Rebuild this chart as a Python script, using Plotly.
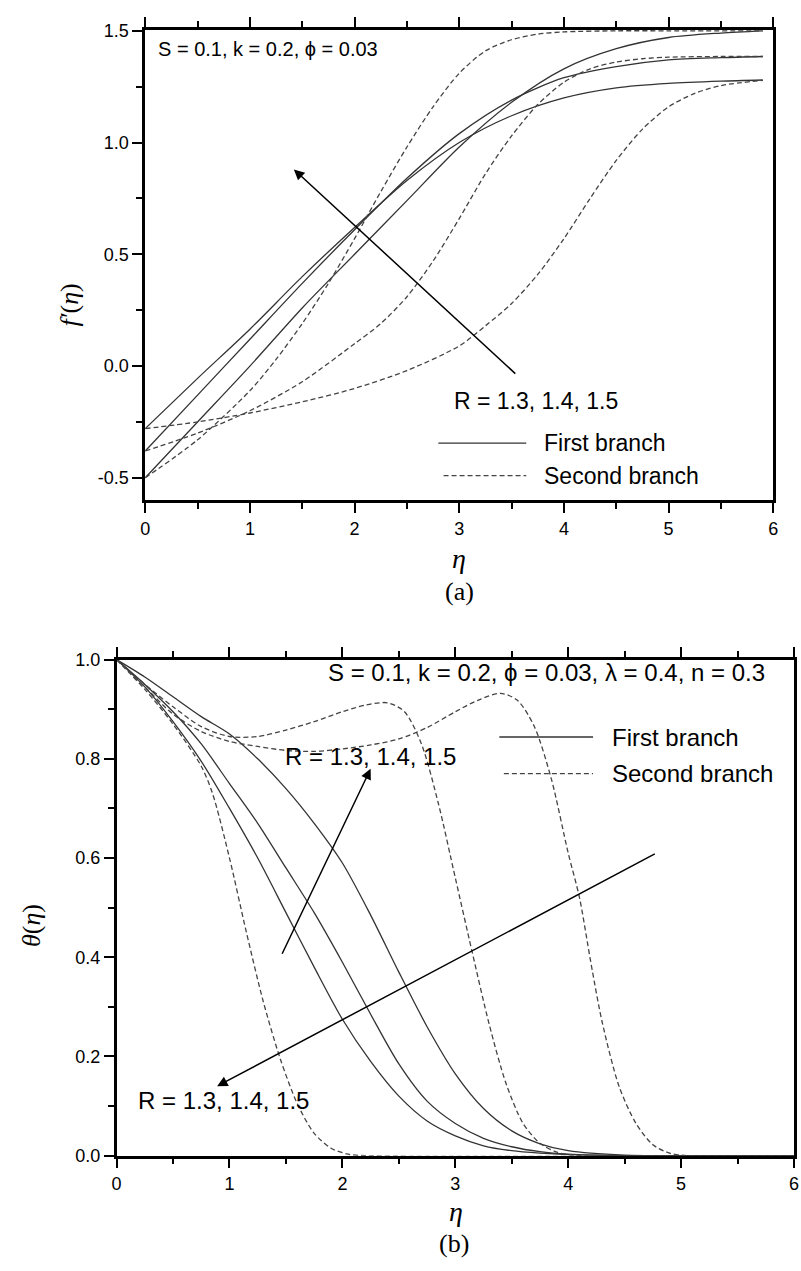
import plotly.graph_objects as go

# ---------------- (a) f'(eta) ----------------
eta_first = [0, 0.5, 1, 1.5, 2, 2.5, 3, 3.5, 4, 4.5, 5, 5.5, 5.9]
fp_first_r13 = [-0.28, -0.055, 0.165, 0.40, 0.62, 0.83, 1.0, 1.12, 1.20, 1.245, 1.265, 1.275, 1.28]
fp_first_r14 = [-0.38, -0.13, 0.12, 0.37, 0.61, 0.84, 1.04, 1.19, 1.29, 1.34, 1.37, 1.38, 1.385]
fp_first_r15 = [-0.5, -0.25, 0.0, 0.26, 0.50, 0.74, 0.98, 1.18, 1.33, 1.42, 1.47, 1.49, 1.50]

eta_sec_r13 = [0, 0.5, 1, 1.5, 2, 2.5, 3, 3.25, 3.5, 3.75, 4, 4.25, 4.5, 4.75, 5, 5.25, 5.5, 5.9]
fp_sec_r13 = [-0.28, -0.25, -0.21, -0.16, -0.1, -0.02, 0.09, 0.18, 0.28, 0.41, 0.57, 0.75, 0.92, 1.06, 1.16, 1.22, 1.255, 1.278]
eta_sec_r14 = [0, 0.5, 1, 1.5, 2, 2.25, 2.5, 2.75, 3, 3.25, 3.5, 3.75, 4, 4.25, 4.5, 4.75, 5, 5.5, 5.9]
fp_sec_r14 = [-0.38, -0.30, -0.20, -0.07, 0.10, 0.19, 0.31, 0.47, 0.66, 0.86, 1.03, 1.17, 1.27, 1.33, 1.36, 1.375, 1.382, 1.385, 1.385]
eta_sec_r15 = [0, 0.5, 1, 1.25, 1.5, 1.75, 2, 2.25, 2.5, 2.75, 3, 3.25, 3.5, 3.75, 4, 4.5, 5, 5.9]
fp_sec_r15 = [-0.5, -0.33, -0.11, 0.03, 0.19, 0.37, 0.57, 0.78, 0.98, 1.16, 1.31, 1.41, 1.46, 1.485, 1.495, 1.5, 1.5, 1.5]

# ---------------- (b) theta(eta) ----------------
eta_t = [0, 0.25, 0.5, 0.75, 1, 1.25, 1.5, 1.75, 2, 2.25, 2.5, 2.75, 3, 3.25, 3.5, 3.75, 4, 4.5, 5, 6]
th_first_a = [1.0, 0.945, 0.875, 0.795, 0.70, 0.60, 0.49, 0.38, 0.275, 0.19, 0.12, 0.07, 0.04, 0.02, 0.01, 0.005, 0.002, 0, 0, 0]
th_first_b = [1.0, 0.95, 0.895, 0.83, 0.75, 0.67, 0.58, 0.49, 0.39, 0.285, 0.185, 0.11, 0.065, 0.035, 0.018, 0.008, 0.003, 0, 0, 0]
th_first_c = [1.0, 0.965, 0.925, 0.885, 0.85, 0.80, 0.74, 0.67, 0.59, 0.485, 0.37, 0.26, 0.165, 0.095, 0.05, 0.024, 0.01, 0.001, 0, 0]

eta_s1 = [0, 0.25, 0.5, 0.75, 0.85, 1.0, 1.15, 1.3, 1.45, 1.6, 1.75, 1.9, 2.05, 2.2, 6]
th_sec_a = [1.0, 0.94, 0.87, 0.785, 0.73, 0.60, 0.45, 0.31, 0.195, 0.105, 0.045, 0.015, 0.003, 0, 0]
eta_s2 = [0, 0.25, 0.5, 0.75, 1.0, 1.25, 1.5, 1.75, 2.0, 2.2, 2.4, 2.55, 2.7, 2.85, 3.0, 3.15, 3.3, 3.45, 3.6, 3.75, 3.9, 4.1, 6]
th_sec_b = [1.0, 0.95, 0.905, 0.865, 0.845, 0.845, 0.858, 0.875, 0.895, 0.908, 0.913, 0.895, 0.83, 0.71, 0.56, 0.41, 0.265, 0.145, 0.065, 0.025, 0.007, 0, 0]
eta_s3 = [0, 0.25, 0.5, 0.75, 1.0, 1.25, 1.5, 1.75, 2.0, 2.25, 2.5, 2.75, 3.0, 3.2, 3.4, 3.55, 3.7, 3.85, 4.0, 4.1, 4.2, 4.3, 4.45, 4.6, 4.75, 4.9, 5.05, 6]
th_sec_c = [1.0, 0.945, 0.89, 0.855, 0.835, 0.825, 0.817, 0.815, 0.82, 0.828, 0.84, 0.863, 0.895, 0.918, 0.932, 0.918, 0.865, 0.76, 0.61, 0.52, 0.39, 0.27, 0.14, 0.065, 0.022, 0.005, 0, 0]

# tick labels
fp_ticks = [-0.5, 0.0, 0.5, 1.0, 1.5]
fp_ticklabels = ["-0.5", "0.0", "0.5", "1.0", "1.5"]
th_ticks = [0.0, 0.2, 0.4, 0.6, 0.8, 1.0]
th_ticklabels = ["0.0", "0.2", "0.4", "0.6", "0.8", "1.0"]
eta_ticks = [0, 1, 2, 3, 4, 5, 6]
eta_ticklabels = ["0", "1", "2", "3", "4", "5", "6"]

W, H = 801, 1271
SOLID = dict(color="#333333", width=1.3)
DASH = dict(color="#444444", width=1.3, dash="5px,3px")

fig = go.Figure()

def add(x, y, line, xa, ya):
    fig.add_trace(go.Scatter(x=x, y=y, mode="lines", line=dict(shape="spline", smoothing=0.8, **line),
                             xaxis=xa, yaxis=ya, showlegend=False, hoverinfo="skip"))

for y in (fp_first_r13, fp_first_r14, fp_first_r15):
    add(eta_first, y, SOLID, "x", "y")
for x, y in ((eta_sec_r13, fp_sec_r13), (eta_sec_r14, fp_sec_r14), (eta_sec_r15, fp_sec_r15)):
    add(x, y, DASH, "x", "y")
for y in (th_first_a, th_first_b, th_first_c):
    add(eta_t, y, SOLID, "x2", "y2")
for x, y in ((eta_s1, th_sec_a), (eta_s2, th_sec_b), (eta_s3, th_sec_c)):
    add(x, y, DASH, "x2", "y2")

tickfont = dict(family="Liberation Sans, Arial, sans-serif", size=18, color="black")
common = dict(showgrid=False, zeroline=False, showline=True, linecolor="black", linewidth=2.5,
              ticks="outside", ticklen=10, tickwidth=2, tickcolor="black", tickfont=tickfont, tickmode="array")

def minor(d):
    return dict(tick0=0, dtick=d, ticklen=6, tickwidth=2, tickcolor="black", ticks="outside")

fig.update_layout(
    width=W, height=H, autosize=False,
    margin=dict(l=0, r=0, t=0, b=0),
    paper_bgcolor="white", plot_bgcolor="white",
    xaxis=dict(domain=[142 / W, 778 / W], range=[0, 6], anchor="y", tickvals=eta_ticks, ticktext=eta_ticklabels,
               mirror="ticks", minor=minor(0.5), **common),
    yaxis=dict(domain=[1 - 498 / H, 1 - 20 / H], range=[-0.6, 1.505], anchor="x", tickvals=fp_ticks,
               ticktext=fp_ticklabels, mirror=True, minor=minor(0.25), **common),
    xaxis2=dict(domain=[113 / W, 799 / W], range=[0, 6], anchor="y2", tickvals=eta_ticks, ticktext=eta_ticklabels,
                mirror="ticks", minor=minor(0.5), **common),
    yaxis2=dict(domain=[1 - 1164 / H, 1 - 660 / H], range=[0, 1.0], anchor="x2", tickvals=th_ticks,
                ticktext=th_ticklabels, mirror=True, minor=minor(0.1), **common),
)

sans = "Liberation Sans, Arial, sans-serif"
serif = "Liberation Serif, Times New Roman, serif"
ann = []

def txt(text, x, y, size, xref="x", yref="y", family=sans, xanchor="center", angle=0):
    ann.append(dict(text=text, x=x, y=y, xref=xref, yref=yref, showarrow=False, xanchor=xanchor,
                    yanchor="middle", textangle=angle, font=dict(family=family, size=size, color="black")))

def arrow(x0, y0, x1, y1, xref, yref):
    ann.append(dict(text="", x=x1, y=y1, ax=x0, ay=y0, xref=xref, yref=yref, axref=xref, ayref=yref,
                    showarrow=True, arrowhead=2, arrowsize=1.4, arrowwidth=1.5, arrowcolor="black", standoff=0))

# panel (a)
txt("S = 0.1, k = 0.2, ϕ = 0.03", 0.1, 1.42, 20, xanchor="left")
txt("R = 1.3, 1.4, 1.5", 3.73, -0.155, 23)
txt("First branch", 3.79, -0.345, 23, xanchor="left")
txt("Second branch", 3.79, -0.49, 23, xanchor="left")
arrow(3.55, -0.04, 1.42, 0.88, "x", "y")
txt("<i>η</i>", 460 / W, 1 - 557 / H, 28, xref="paper", yref="paper", family=serif)
txt("(a)", 460 / W, 1 - 591 / H, 26, xref="paper", yref="paper", family=serif)
txt("<i>f′</i>(<i>η</i>)", 65 / W, 1 - 300 / H, 26, xref="paper", yref="paper", family=serif, angle=-90)

# panel (b)
txt("S = 0.1, k = 0.2, ϕ = 0.03, λ = 0.4, n = 0.3", 3.81, 0.974, 24, xref="x2", yref="y2")
txt("R = 1.3, 1.4, 1.5", 2.25, 0.804, 24, xref="x2", yref="y2")
txt("R = 1.3, 1.4, 1.5", 0.95, 0.111, 24, xref="x2", yref="y2")
txt("First branch", 4.37, 0.844, 24, xref="x2", yref="y2", xanchor="left")
txt("Second branch", 4.37, 0.77, 24, xref="x2", yref="y2", xanchor="left")
arrow(1.46, 0.404, 2.25, 0.78, "x2", "y2")
arrow(4.78, 0.61, 0.89, 0.14, "x2", "y2")
txt("<i>η</i>", 457 / W, 1 - 1221 / H, 28, xref="paper", yref="paper", family=serif)
txt("(b)", 455 / W, 1 - 1253 / H, 26, xref="paper", yref="paper", family=serif)
txt("<i>θ</i>(<i>η</i>)", 27 / W, 1 - 930 / H, 26, xref="paper", yref="paper", family=serif, angle=-90)

fig.update_layout(annotations=ann)

shapes = [
    dict(type="line", xref="x", yref="y", x0=2.8, x1=3.64, y0=-0.345, y1=-0.345, line=dict(color="#333333", width=1.3)),
    dict(type="line", xref="x", yref="y", x0=2.85, x1=3.64, y0=-0.49, y1=-0.49, line=dict(color="#444444", width=1.3, dash="5px,3px")),
    dict(type="line", xref="x2", yref="y2", x0=3.39, x1=4.22, y0=0.844, y1=0.844, line=dict(color="#333333", width=1.3)),
    dict(type="line", xref="x2", yref="y2", x0=3.43, x1=4.22, y0=0.77, y1=0.77, line=dict(color="#444444", width=1.3, dash="5px,3px")),
]
fig.update_layout(shapes=shapes)

fig.write_html("out.html")
